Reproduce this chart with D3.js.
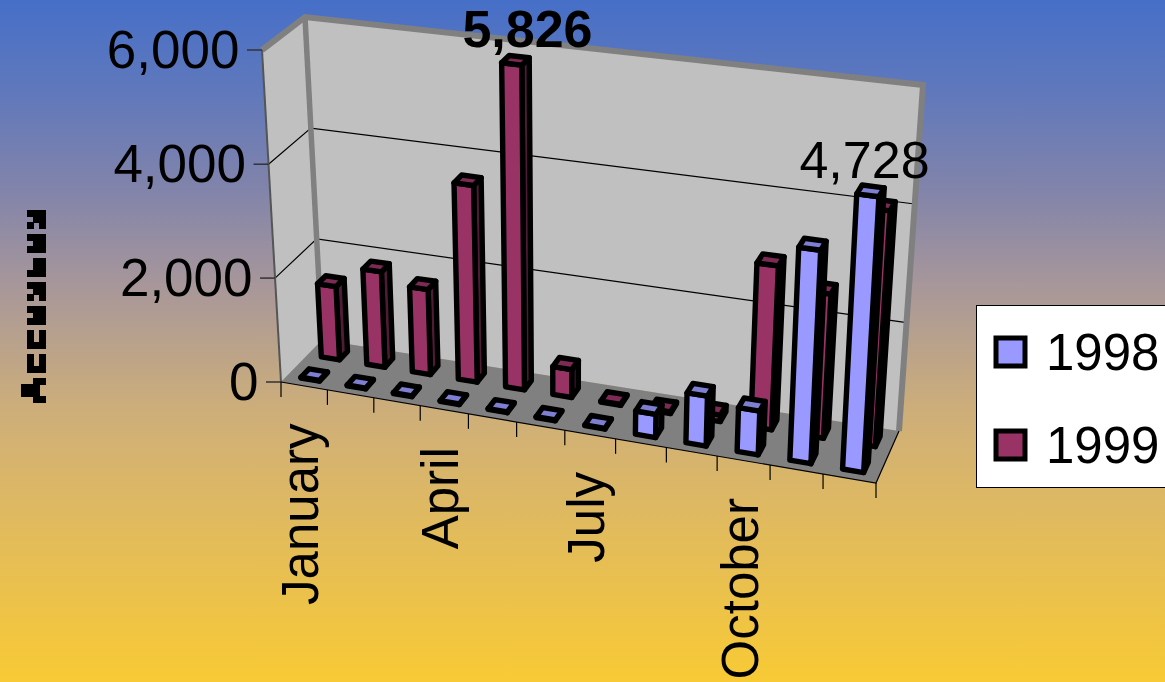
<!DOCTYPE html>
<html>
<head>
<meta charset="utf-8">
<script src="https://cdn.jsdelivr.net/npm/d3@7"></script>
<style>
    html, body { margin: 0; padding: 0; overflow: hidden; }
    text { font-family: "Liberation Sans", Arial, sans-serif; fill: #000; }
</style>
</head>
<body>
<div id="chart"></div>
<script>
// Chart values
const months = ['January', 'February', 'March', 'April', 'May', 'June', 'July',
    'August', 'September', 'October', 'November', 'December'];
const shownMonths = ['January', 'April', 'July', 'October'];
const values1998 = [15, 15, 15, 15, 15, 15, 15, 430, 920, 800, 3720, 4728];
const values1999 = [1430, 1850, 1640, 3620, 5826, 530, 20, 30, 120, 2950, 2600, 4120];
const valueTicks = [0, 2000, 4000, 6000];
const seriesNames = ['1998', '1999'];
const axisTitle = 'Accesses';

const width = 1165;
const height = 682;

// Box corners as they sit on screen (front/back, left/right)
const floorFL = [281, 382], floorFR = [876, 483], floorBL = [322, 340], floorBR = [899, 431];
const topFL = [262, 50], topFR = [896, 128], topBL = [305, 17], topBR = [923, 85];

// Foreshortening is slight, so these scales are not quite even
const xScale = d3.scaleLinear().domain([0, 3, 6, 9, 12]).range([0, 0.234, 0.477, 0.733, 1]);
const yScale = d3.scaleLinear().domain(valueTicks).range([0, 0.313, 0.656, 1]);
const monthIndex = d3.scaleOrdinal().domain(months).range(d3.range(12));

const mix = (a, b, t) => [a[0] + (b[0] - a[0]) * t, a[1] + (b[1] - a[1]) * t];

function project(i, depth, value) {
    const tx = xScale(i);
    const floor = mix(mix(floorFL, floorFR, tx), mix(floorBL, floorBR, tx), depth);
    const roof = mix(mix(topFL, topFR, tx), mix(topBL, topBR, tx), depth);
    return mix(floor, roof, yScale(value));
}

const poly = pts => 'M' + pts.map(p => p.join(',')).join('L') + 'Z';

const svg = d3.select('#chart').append('svg')
    .attr('width', width)
    .attr('height', height)
    .style('display', 'block');

// Background
const defs = svg.append('defs');
const grad = defs.append('linearGradient')
    .attr('id', 'bg').attr('x1', 0).attr('y1', 0).attr('x2', 0).attr('y2', 1);
[[0, '#466fc8'], [0.13, '#5f78bc'], [0.28, '#8284aa'], [0.42, '#a8979a'],
 [0.6, '#cdae7a'], [0.72, '#dcb766'], [1, '#f8ca35']].forEach(s => {
    grad.append('stop').attr('offset', s[0]).attr('stop-color', s[1]);
});
svg.append('rect').attr('width', width).attr('height', height).attr('fill', 'url(#bg)');

// Blocky look of the axis title
const pix = defs.append('filter').attr('id', 'pixel')
    .attr('x', -20).attr('y', -60).attr('width', 260).attr('height', 120)
    .attr('filterUnits', 'userSpaceOnUse').attr('primitiveUnits', 'userSpaceOnUse')
    .attr('color-interpolation-filters', 'sRGB');
pix.append('feFlood').attr('x', 3).attr('y', 3).attr('width', 1).attr('height', 1).attr('flood-color', '#000');
pix.append('feComposite').attr('width', 6).attr('height', 6);
pix.append('feTile').attr('result', 'grid');
pix.append('feComposite').attr('in', 'SourceGraphic').attr('in2', 'grid').attr('operator', 'in');
pix.append('feMorphology').attr('operator', 'dilate').attr('radius', 3);
pix.append('feComponentTransfer').append('feFuncA')
    .attr('type', 'discrete').attr('tableValues', '0 1 1 1');

// Walls and floor
const leftWall = [project(0, 0, 0), project(0, 1, 0), project(0, 1, 6000), project(0, 0, 6000)];
const backWall = [project(0, 1, 0), project(12, 1, 0), project(12, 1, 6000), project(0, 1, 6000)];
const floorPts = [project(0, 0, 0), project(12, 0, 0), project(12, 1, 0), project(0, 1, 0)];

svg.append('path').attr('d', poly(leftWall)).attr('fill', '#c0c0c0');
svg.append('path').attr('d', poly(backWall)).attr('fill', '#c0c0c0');
svg.append('path').attr('d', poly(floorPts)).attr('fill', '#808080');

// Gridlines
svg.append('g').selectAll('path')
    .data(valueTicks.filter(v => v > 0 && v < 6000))
    .join('path')
    .attr('d', v => d3.line()([project(0, 0, v), project(0, 1, v), project(12, 1, v)]))
    .attr('fill', 'none')
    .attr('stroke', '#000')
    .attr('stroke-width', 1.2);

// Thick grey rim of the walls
svg.append('path')
    .attr('d', d3.line()([project(0, 0, 6000), project(0, 1, 6000), project(12, 1, 6000), project(12, 1, 0)]))
    .attr('fill', 'none').attr('stroke', '#808080').attr('stroke-width', 6);
svg.append('path')
    .attr('d', d3.line()([project(0, 1, 6000), project(0, 1, 0)]))
    .attr('fill', 'none').attr('stroke', '#808080').attr('stroke-width', 5.5);

// Axis lines and ticks
const axisG = svg.append('g').attr('stroke', '#000').attr('fill', 'none');
axisG.append('path').attr('d', d3.line()([project(0, 0, 0), project(0, 0, 6000)]))
    .attr('stroke', '#555').attr('stroke-width', 2);
axisG.append('path').attr('d', d3.line()([project(0, 0, 0), project(12, 0, 0), project(12, 1, 0)]))
    .attr('stroke-width', 1.2);

axisG.selectAll('.ytick').data(valueTicks).join('path')
    .attr('class', 'ytick')
    .attr('d', v => {
        const p = project(0, 0, v);
        return d3.line()([[p[0] - 15, p[1]], p]);
    })
    .attr('stroke', '#333').attr('stroke-width', 1.5);

axisG.selectAll('.xtick').data(d3.range(13)).join('path')
    .attr('class', 'xtick')
    .attr('d', i => {
        const p = project(i, 0, 0);
        return d3.line()([p, [p[0], p[1] + 15]]);
    })
    .attr('stroke-width', 1.2);

// Bars, back row first
const barColors = {
    '1998': { front: '#9999ff', top: '#7e7ed2', side: '#505085' },
    '1999': { front: '#993366', top: '#7e2a54', side: '#4f1b35' }
};
const barHalf = 0.2;   // of one category
const rowHalf = 0.1;   // of the floor depth

function drawRow(name, values, depth) {
    const colors = barColors[name];
    const group = svg.append('g')
        .attr('stroke', '#000')
        .attr('stroke-width', 5.4)
        .attr('stroke-linejoin', 'round');

    const bars = group.selectAll('g').data(values).join('g');
    const corners = (d, i) => {
        const a = i + 0.5 - barHalf, b = i + 0.5 + barHalf;
        const n = depth - rowHalf, f = depth + rowHalf;
        return {
            fl: project(a, n, 0), fr: project(b, n, 0), bl: project(b, f, 0),
            tfl: project(a, n, d), tfr: project(b, n, d), tbr: project(b, f, d), tbl: project(a, f, d)
        };
    };
    bars.append('path')
        .attr('fill', colors.side)
        .attr('d', (d, i) => { const c = corners(d, i); return poly([c.fr, c.bl, c.tbr, c.tfr]); });
    bars.append('path')
        .attr('fill', colors.front)
        .attr('d', (d, i) => { const c = corners(d, i); return poly([c.fl, c.fr, c.tfr, c.tfl]); });
    bars.append('path')
        .attr('fill', colors.top)
        .attr('d', (d, i) => { const c = corners(d, i); return poly([c.tfl, c.tfr, c.tbr, c.tbl]); });
}

drawRow('1999', values1999, 0.75);
drawRow('1998', values1998, 0.25);

// Value axis labels
const fontSize = 51;
svg.append('g').selectAll('text').data(valueTicks).join('text')
    .attr('x', v => project(0, 0, v)[0] - 22.5)
    .attr('y', v => project(0, 0, v)[1] - 1.5)
    .attr('dy', '0.36em')
    .attr('text-anchor', 'end')
    .attr('font-size', 53)
    .text(d3.format(','));

// Month labels, rotated
svg.append('g').selectAll('text').data(shownMonths).join('text')
    .attr('transform', m => {
        const p = project(monthIndex(m) + 0.5, 0, 0);
        return `translate(${p[0] + 14},${p[1] + 37.5}) rotate(-90)`;
    })
    .attr('text-anchor', 'end')
    .attr('font-size', fontSize)
    .text(m => m);

// Data labels
const mayTop = project(4.5, 0.75, values1999[4]);
svg.append('text')
    .attr('x', mayTop[0] + 12).attr('y', mayTop[1] - 32)
    .attr('dy', '0.36em')
    .attr('text-anchor', 'middle')
    .attr('font-size', 52)
    .attr('font-weight', 'bold')
    .text(d3.format(',')(values1999[4]));

const decTop = project(11.5, 0.25, values1998[11]);
svg.append('text')
    .attr('x', decTop[0] - 6).attr('y', decTop[1] - 32)
    .attr('dy', '0.36em')
    .attr('text-anchor', 'middle')
    .attr('font-size', 52)
    .text(d3.format(',')(values1998[11]));

// Axis title
svg.append('g')
    .attr('transform', 'translate(45,403) rotate(-90)')
    .attr('filter', 'url(#pixel)')
    .append('text')
    .attr('font-weight', 'bold')
    .attr('font-size', 33)
    .attr('letter-spacing', 3.5)
    .style('font-family', '"DejaVu Sans"')
    .text(axisTitle);

// Legend
const legend = svg.append('g');
legend.append('rect')
    .attr('x', 976.5).attr('y', 305.5)
    .attr('width', 200).attr('height', 182)
    .attr('fill', '#fff').attr('stroke', '#000').attr('stroke-width', 1);

const legendY = d3.scalePoint().domain(seriesNames).range([352, 445]);
seriesNames.forEach(name => {
    legend.append('rect')
        .attr('x', 996).attr('y', legendY(name) - 14)
        .attr('width', 29).attr('height', 28)
        .attr('fill', barColors[name].front)
        .attr('stroke', '#000').attr('stroke-width', 5);
    legend.append('text')
        .attr('x', 1046).attr('y', legendY(name))
        .attr('dy', '0.36em')
        .attr('font-size', fontSize)
        .text(name);
});
</script>
</body>
</html>
